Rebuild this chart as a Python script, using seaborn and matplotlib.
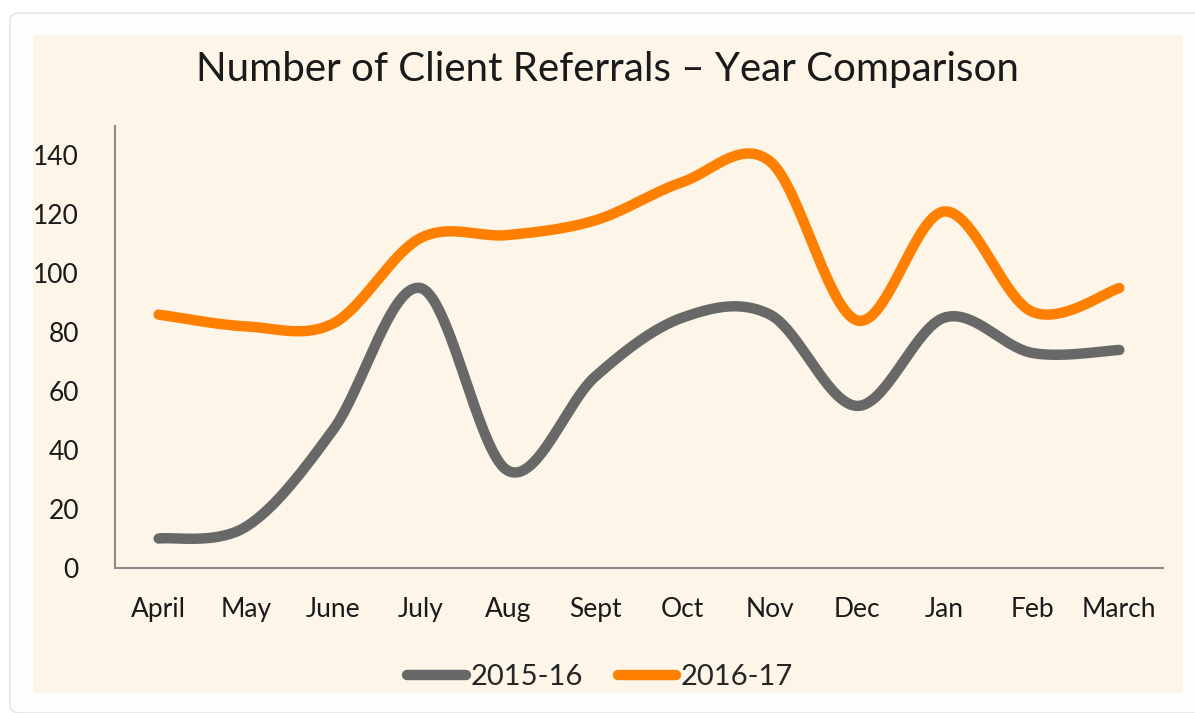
import numpy as np
import pandas as pd
import matplotlib
matplotlib.use("Agg")
import matplotlib.pyplot as plt
from matplotlib.patches import Rectangle, FancyBboxPatch
import seaborn as sns

months = ["April", "May", "June", "July", "Aug", "Sept", "Oct", "Nov", "Dec", "Jan", "Feb", "March"]
referrals_1516 = [10, 14, 47, 95, 33, 65, 85, 86, 55, 85, 73, 74]
referrals_1617 = [86, 82, 83, 112, 113, 118, 131, 138, 84, 121, 87, 95]
series_names = ["2015-16", "2016-17"]
colors = {"2015-16": "#686868", "2016-17": "#FF8000"}


def smooth(values, n=40):
    # Excel-style smoothed line: cubic Bezier through the points (Catmull-Rom control points)
    p = np.column_stack([np.arange(len(values), dtype=float), np.asarray(values, dtype=float)])
    ext = np.vstack([p[0], p, p[-1]])
    out = []
    t = np.linspace(0, 1, n)[:, None]
    for i in range(len(p) - 1):
        p0, p3 = p[i], p[i + 1]
        c1 = p0 + (ext[i + 2] - ext[i]) / 6
        c2 = p3 - (ext[i + 3] - ext[i + 1]) / 6
        seg = (1 - t) ** 3 * p0 + 3 * (1 - t) ** 2 * t * c1 + 3 * (1 - t) * t ** 2 * c2 + t ** 3 * p3
        out.append(seg if i == 0 else seg[1:])
    return np.vstack(out)


frames = []
for name, vals in zip(series_names, [referrals_1516, referrals_1617]):
    xy = smooth(vals)
    frames.append(pd.DataFrame({"x": xy[:, 0], "y": xy[:, 1], "series": name}))
df = pd.concat(frames, ignore_index=True)

sns.set_style("white")
plt.rcParams["font.family"] = ["Lato", "DejaVu Sans"]
text_color = "#1a1a1a"

fig = plt.figure(figsize=(11.95, 7.13), dpi=100)
fig.patch.set_facecolor("white")
W, H = 1195, 713
fig.patches.append(FancyBboxPatch((10 / W, 0.0), 1.2, (H - 13) / H, boxstyle="round,pad=0,rounding_size=0.01",
                                  transform=fig.transFigure, facecolor="#FEFEFD", edgecolor="#E6E6E6",
                                  linewidth=1.2, zorder=-3))
fig.patches.append(Rectangle((33 / W, 1 - 693 / H), (1183 - 33) / W, (693 - 35) / H,
                             transform=fig.transFigure, facecolor="#FCF5E8", edgecolor="none", zorder=-2))

ax = fig.add_axes([115 / W, 1 - 568 / H, (1163 - 115) / W, (568 - 126) / H])
ax.set_facecolor("none")

sns.lineplot(data=df, x="x", y="y", hue="series", palette=colors, sort=False,
             linewidth=7.5, ax=ax, legend=False, solid_capstyle="round")

ax.set_xlim(-0.5, 11.5)
ax.set_ylim(0, 150)
ax.set_xticks(range(len(months)))
ax.set_xticklabels(months)
ax.set_yticks(range(0, 141, 20))
ax.tick_params(axis="both", length=0, labelsize=19, colors=text_color)
ax.tick_params(axis="x", pad=21)
ax.tick_params(axis="y", pad=26)
ax.set_xlabel("")
ax.set_ylabel("")
for s in ["top", "right"]:
    ax.spines[s].set_visible(False)
for s in ["left", "bottom"]:
    ax.spines[s].set_color("#8C8C8C")
    ax.spines[s].set_linewidth(1.5)

fig.text(607 / W, 1 - 70 / H, "Number of Client Referrals \u2013 Year Comparison",
         ha="center", va="center", fontsize=29, color=text_color)

handles = [plt.Line2D([0], [0], color=colors[n], lw=7.5, solid_capstyle="round") for n in series_names]
fig.legend(handles, series_names, loc="center", bbox_to_anchor=(600 / W, 1 - 677 / H), ncol=2,
           frameon=False, fontsize=21, handlelength=2.0, handletextpad=0.15, columnspacing=1.2)

fig.savefig("out.png", dpi=100, facecolor=fig.get_facecolor())
